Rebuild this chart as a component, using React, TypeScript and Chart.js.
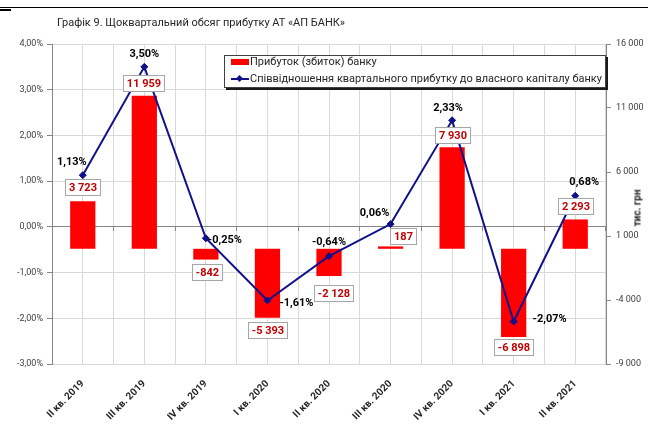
import React, { useEffect, useRef } from "react";
import { Chart, registerables } from "chart.js";

Chart.register(...registerables);

// ---- data ----
const categories = [
  "II кв. 2019",
  "III кв. 2019",
  "IV кв. 2019",
  "I кв. 2020",
  "II кв. 2020",
  "III кв. 2020",
  "IV кв. 2020",
  "I кв. 2021",
  "II кв. 2021",
];
const profitValues = [3723, 11959, -842, -5393, -2128, 187, 7930, -6898, 2293];
const ratioValues = [1.13, 3.5, -0.25, -1.61, -0.64, 0.06, 2.33, -2.07, 0.68];

const leftMin = -3;
const leftMax = 4;
const leftStep = 1;
const rightMin = -9000;
const rightMax = 16000;
const rightStep = 5000;

const titleText = "Графік 9. Щоквартальний обсяг прибутку АТ «АП БАНК»";
const barSeriesName = "Прибуток (збиток) банку";
const lineSeriesName = "Співвідношення квартального прибутку до власного капіталу банку";
const rightAxisTitle = "тис. грн";

// label placement (offsets relative to the drawn element, style only)
const ratioLabelOffsets: [number, number][] = [
  [-11, -13], [0, -13], [19, 2], [29, 3], [0, -14], [-16, -11], [-4, -12], [36, -2], [9, -14],
];
const profitLabelOffsets: [number, number][] = [
  [0, -14], [-1, -13], [1, 12], [0, 12], [4, 17], [12, -10], [0, -12], [0, 10], [0, -13],
];

const FONT = "Roboto, 'Liberation Sans', sans-serif";
const NAVY = "#10108A";

function fmtThousands(v: number): string {
  const s = String(Math.abs(Math.round(v))).replace(/\B(?=(\d{3})+(?!\d))/g, " ");
  return (v < 0 ? "-" : "") + s;
}
function fmtPct(v: number): string {
  return v.toFixed(2).replace(".", ",") + "%";
}

const labelPlugin = {
  id: "valueLabels",
  afterDatasetsDraw(chart: any) {
    const ctx = chart.ctx as CanvasRenderingContext2D;
    ctx.save();
    // bar labels
    const barMeta = chart.getDatasetMeta(1);
    ctx.font = `bold 11px ${FONT}`;
    ctx.textAlign = "center";
    ctx.textBaseline = "middle";
    barMeta.data.forEach((el: any, i: number) => {
      const v = profitValues[i];
      const text = fmtThousands(v);
      const w = Math.round(ctx.measureText(text).width + 7);
      const h = 16;
      const [dx, dy] = profitLabelOffsets[i];
      const end = v >= 0 ? Math.min(el.y, el.base) : Math.max(el.y, el.base);
      const cx = el.x + dx;
      const cy = end + dy;
      const left = Math.round(cx - w / 2);
      const top = Math.round(cy - h / 2);
      ctx.fillStyle = "#ffffff";
      ctx.fillRect(left, top, w, h);
      ctx.strokeStyle = "#A6A6A6";
      ctx.lineWidth = 1;
      ctx.strokeRect(left + 0.5, top + 0.5, w, h);
      ctx.fillStyle = "#C00000";
      ctx.fillText(text, left + w / 2 + 0.5, top + h / 2 + 1);
    });
    // line labels
    const lineMeta = chart.getDatasetMeta(0);
    ctx.font = `bold 11px ${FONT}`;
    ctx.fillStyle = "#000000";
    lineMeta.data.forEach((el: any, i: number) => {
      const [dx, dy] = ratioLabelOffsets[i];
      ctx.fillText(fmtPct(ratioValues[i]), el.x + dx, el.y + dy);
    });
    ctx.restore();
  },
};

export default function App() {
  const canvasRef = useRef<HTMLCanvasElement | null>(null);

  useEffect(() => {
    if (!canvasRef.current) return;
    Chart.defaults.font.family = FONT;
    const gridColor = "#D9D9D9";
    const axisColor = "#868686";
    const chart = new Chart(canvasRef.current, {
      type: "bar",
      data: {
        labels: categories,
        datasets: [
          {
            type: "line",
            label: lineSeriesName,
            data: ratioValues,
            xAxisID: "x",
            yAxisID: "y",
            borderColor: NAVY,
            backgroundColor: NAVY,
            borderWidth: 2,
            pointStyle: "rectRot",
            pointRadius: 3.5,
            pointBackgroundColor: NAVY,
            pointBorderColor: NAVY,
            pointBorderWidth: 1,
            tension: 0,
            order: 0,
          } as any,
          {
            type: "bar",
            label: barSeriesName,
            data: profitValues,
            xAxisID: "x",
            yAxisID: "y1",
            backgroundColor: "#FF0000",
            borderWidth: 0,
            barPercentage: 0.41,
            categoryPercentage: 1,
            order: 1,
          } as any,
        ],
      },
      options: {
        responsive: false,
        maintainAspectRatio: false,
        animation: false,
        layout: { padding: { top: 44, left: 0, right: 0, bottom: 0 } },
        plugins: {
          legend: { display: false },
          tooltip: { enabled: false },
          title: { display: false },
        },
        scales: {
          x: {
            type: "category",
            position: "bottom",
            offset: true,
            grid: { offset: true, color: gridColor, drawTicks: false },
            border: { color: gridColor },
            ticks: {
              minRotation: 45,
              maxRotation: 45,
              autoSkip: false,
              padding: 14,
              color: "#262626",
              font: { size: 10, weight: "bold", family: FONT },
            },
            afterFit: (s: any) => {
              s.height = 74;
            },
          },
          xc: {
            type: "category",
            position: "top",
            offset: true,
            grid: { offset: false, color: gridColor, drawTicks: false },
            border: { display: false },
            ticks: { display: false },
            afterFit: (s: any) => {
              s.height = 0;
            },
          },
          xz: {
            type: "category",
            position: { y: 0 },
            offset: true,
            grid: {
              offset: true,
              drawOnChartArea: false,
              drawTicks: true,
              tickLength: 4,
              tickColor: axisColor,
            },
            border: { display: true, color: axisColor },
            ticks: { display: false },
          } as any,
          y: {
            type: "linear",
            position: "left",
            min: leftMin,
            max: leftMax,
            ticks: {
              stepSize: leftStep,
              padding: 4,
              color: "#404040",
              font: { size: 9, family: FONT },
              callback: (v: any) => fmtPct(Number(v)),
            },
            grid: {
              color: (c: any) => (c.tick && c.tick.value === 0 ? axisColor : gridColor),
              tickColor: axisColor,
              tickLength: 5,
            },
            border: { color: axisColor },
            afterFit: (s: any) => {
              s.width = 52;
            },
          },
          y1: {
            type: "linear",
            position: "right",
            min: rightMin,
            max: rightMax,
            ticks: {
              stepSize: rightStep,
              padding: 5,
              color: "#404040",
              font: { size: 9, family: FONT },
              callback: (v: any) => fmtThousands(Number(v)),
            },
            grid: {
              drawOnChartArea: false,
              tickColor: axisColor,
              tickLength: 5,
            },
            border: { color: axisColor },
            afterFit: (s: any) => {
              s.width = 42;
            },
          },
        },
      } as any,
      plugins: [labelPlugin],
    });
    return () => chart.destroy();
  }, []);

  return (
    <div
      style={{
        position: "fixed",
        left: 0,
        top: 0,
        width: 648,
        height: 438,
        background: "#ffffff",
        overflow: "hidden",
        fontFamily: FONT,
      }}
    >
      <div style={{ position: "absolute", left: 0, top: 7, width: 648, height: 1, background: "#000" }} />
      <div style={{ position: "absolute", left: 0, top: 9, width: 11, height: 2, background: "#000" }} />
      <canvas
        ref={canvasRef}
        width={648}
        height={438}
        style={{ position: "absolute", left: 0, top: 0, width: 648, height: 438 }}
      />
      <div
        style={{
          position: "absolute",
          left: 57,
          top: 16,
          fontSize: 11,
          lineHeight: "14px",
          color: "#262626",
          whiteSpace: "nowrap",
        }}
      >
        {titleText}
      </div>
      <div
        style={{
          position: "absolute",
          left: 637,
          top: 208,
          transform: "translate(-50%, -50%) rotate(-90deg)",
          fontSize: 10,
          fontWeight: "bold",
          color: "#262626",
          whiteSpace: "nowrap",
        }}
      >
        {rightAxisTitle}
      </div>
      <div
        style={{
          position: "absolute",
          left: 224,
          top: 55,
          width: 380,
          height: 31,
          background: "#ffffff",
          border: "1px solid #404040",
          boxShadow: "2px 2px 0 #1a1a1a",
          fontSize: 11,
          color: "#262626",
        }}
      >
        <div style={{ position: "absolute", left: 6, top: 3, width: 18, height: 6, background: "#FF0000" }} />
        <div style={{ position: "absolute", left: 25, top: -1, lineHeight: "14px", whiteSpace: "nowrap" }}>
          {barSeriesName}
        </div>
        <div style={{ position: "absolute", left: 6, top: 22, width: 18, height: 2, background: NAVY }} />
        <div
          style={{
            position: "absolute",
            left: 12,
            top: 20,
            width: 5,
            height: 5,
            background: NAVY,
            transform: "rotate(45deg)",
          }}
        />
        <div style={{ position: "absolute", left: 25, top: 16, lineHeight: "14px", whiteSpace: "nowrap" }}>
          {lineSeriesName}
        </div>
      </div>
    </div>
  );
}
